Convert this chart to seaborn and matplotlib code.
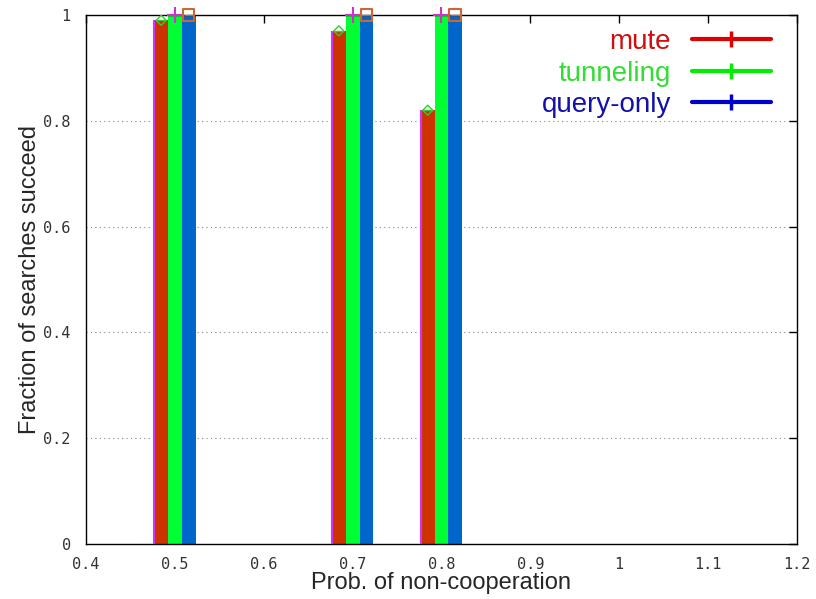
import numpy as np
import pandas as pd
import matplotlib
matplotlib.use("Agg")
import matplotlib.pyplot as plt
from matplotlib.lines import Line2D
import seaborn as sns

# data
prob = [0.5, 0.7, 0.8]
series = ["mute", "tunneling", "query-only"]
mute = [0.99, 0.97, 0.82]
tunneling = [1.0, 1.0, 1.0]
query_only = [1.0, 1.0, 1.0]

bar_colors = ["#cc3300", "#00ff33", "#0066cc"]
line_colors = ["#dd0000", "#00ee00", "#0000cc"]
text_colors = ["#cc1111", "#33dd33", "#1111aa"]

df = pd.DataFrame({
    "prob": prob * 3,
    "series": np.repeat(series, len(prob)),
    "value": mute + tunneling + query_only,
})

sns.set_style("white")
fig = plt.figure(figsize=(8.16, 5.99), dpi=100)
ax = fig.add_axes([0.1054, 0.0918, 0.8713, 0.8831])

sns.barplot(data=df, x="prob", y="value", hue="series", hue_order=series,
            palette=bar_colors, native_scale=True, width=0.465, gap=0,
            dodge=True, errorbar=None, legend=False, ax=ax,
            linewidth=0, saturation=1)

# bar width after dodge (group width / number of series)
w = 0.1 * 0.465 / 3
px = np.array(prob)

# point markers on top of the bars
ax.scatter(px - w, mute, marker="D", s=26, facecolors="none",
           edgecolors="#33cc33", linewidths=1.0, zorder=5)
ax.scatter(px - w, mute, marker="_", s=50, color="#33cc33", linewidths=1.0, zorder=5)
ax.scatter(px, tunneling, marker="+", s=140, color="#cc33cc", linewidths=1.5,
           zorder=5, clip_on=False)
ax.scatter(px + w, query_only, marker="s", s=70, facecolors="none",
           edgecolors="#cc6633", linewidths=1.5, zorder=5, clip_on=False)
ax.scatter(px + w, query_only, marker="_", s=60, color="#cc6633", linewidths=1.0,
           zorder=5, clip_on=False)
ax.vlines(px - 1.5 * w, 0, mute, colors="#cc33ff", linewidth=1.5, zorder=4)

ax.set_xlim(0.4, 1.2)
ax.set_ylim(0, 1)
ax.set_xticks(np.arange(0.4, 1.21, 0.1))
ax.set_xticklabels(["0.4", "0.5", "0.6", "0.7", "0.8", "0.9", "1", "1.1", "1.2"])
ax.set_yticks(np.arange(0, 1.01, 0.2))
ax.set_yticklabels(["0", "0.2", "0.4", "0.6", "0.8", "1"])
ax.yaxis.grid(True, linestyle=(0, (1, 3)), color="#888888", linewidth=0.8)
ax.set_axisbelow(True)

mono = "DejaVu Sans Mono"
ax.tick_params(direction="in", length=6, width=1, top=True, right=True,
               labelsize=11, colors="black")
ax.tick_params(axis="x", pad=9)
ax.tick_params(axis="y", pad=11)
for lab in ax.get_xticklabels() + ax.get_yticklabels():
    lab.set_family(mono)
    lab.set_color("#333333")
for s in ax.spines.values():
    s.set_color("black")
    s.set_linewidth(1)

ax.set_xlabel("Prob. of non-cooperation", fontsize=17, family="Liberation Sans",
              labelpad=0)
ax.set_ylabel("Fraction of searches succeed", fontsize=17, family="Liberation Sans",
              labelpad=2)

handles = [Line2D([0], [0], color=c, lw=3, marker="|", markersize=12,
                  markeredgewidth=2.5) for c in line_colors]
leg = ax.legend(handles, series, loc="upper right", frameon=False,
                markerfirst=False, handlelength=2.85,
                prop={"family": "Liberation Sans", "size": 20},
                labelspacing=0.2, borderaxespad=0.3, borderpad=0.3,
                handletextpad=0.75, bbox_to_anchor=(0.987, 1.005))
for t, c in zip(leg.get_texts(), text_colors):
    t.set_color(c)

fig.savefig("out.png", dpi=100)
